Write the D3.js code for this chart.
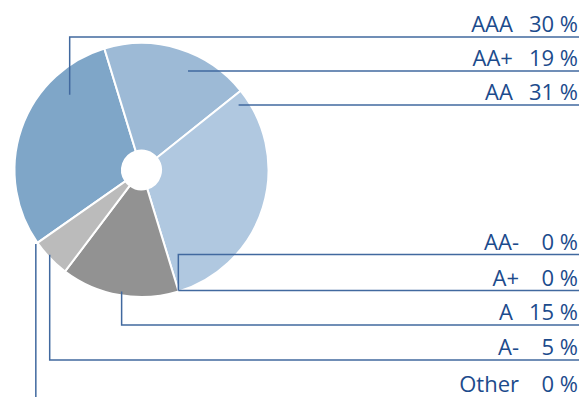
<!DOCTYPE html>
<html>
<head>
<meta charset="utf-8">
<script src="https://cdn.jsdelivr.net/npm/d3@7"></script>
<style>
  body { margin: 0; background: #fff; }
  svg text { font-family: "Open Sans", "Noto Sans", sans-serif; }
</style>
</head>
<body>
<script>
// data
var ratings = ["AAA", "AA+", "AA", "AA-", "A+", "A", "A-", "Other"];
var shares = [30, 19, 31, 0, 0, 15, 5, 0];
var sliceColors = ["#7fa6c8", "#9dbad6", "#b0c8e0", "#b0c8e0", "#b0c8e0", "#929292", "#bbbbbb", "#bbbbbb"];

// where each leader touches its slice: fraction along the slice angle, radius
var leaderFrac = [0.753, 0.614, 0.042, 1, 1, 0.487, 0.57, 1];
var leaderRad = [104, 110, 117, 126, 126, 123, 125, 129];
// label rows: 3 on top, 5 at the bottom
var topRows = [37, 71, 105];
var bottomRows = [254.5, 290.5, 325, 360, 398];

var width = 586, height = 397;
var cx = 141.5, cy = 170, outerR = 127, innerR = 19.5;
var lineEnd = 579;
var textColor = "#1c4b8c", lineColor = "#41699f";

var svg = d3.select("body")
  .append("svg")
  .attr("width", width)
  .attr("height", height);

var startDeg = 235;
var pie = d3.pie()
  .sort(null)
  .value(function(d) { return d; })
  .startAngle(startDeg * Math.PI / 180)
  .endAngle(startDeg * Math.PI / 180 + 2 * Math.PI);

var arcs = pie(shares);

var arc = d3.arc()
  .innerRadius(innerR)
  .outerRadius(outerR);

var g = svg.append("g")
  .attr("transform", "translate(" + cx + "," + cy + ")");

g.selectAll("path.slice")
  .data(arcs.filter(function(d) { return d.value > 0; }))
  .enter()
  .append("path")
  .attr("class", "slice")
  .attr("d", arc)
  .attr("fill", function(d) { return sliceColors[d.index]; })
  .attr("stroke", "#fff")
  .attr("stroke-width", 2);

// row y for every label
var rowY = topRows.concat(bottomRows);

// leaders
svg.selectAll("path.leader")
  .data(arcs)
  .enter()
  .append("path")
  .attr("class", "leader")
  .attr("fill", "none")
  .attr("stroke", lineColor)
  .attr("stroke-width", 1.5)
  .attr("d", function(d, i) {
    var a = d.startAngle + (d.endAngle - d.startAngle) * leaderFrac[i];
    var x = cx + leaderRad[i] * Math.sin(a);
    var y = cy - leaderRad[i] * Math.cos(a);
    var ly = rowY[i];
    if (Math.abs(y - ly) < 2) y = ly;
    return "M" + x + "," + y + "V" + ly + "H" + lineEnd;
  });

// labels: value right-aligned, name placed left of it
var labelY = function(i) { return Math.min(rowY[i] - 5, 391.5); };

var values = svg.selectAll("text.value")
  .data(shares)
  .enter()
  .append("text")
  .attr("class", "value")
  .attr("x", lineEnd - 1)
  .attr("y", function(d, i) { return labelY(i); })
  .attr("text-anchor", "end")
  .attr("fill", textColor)
  .style("font-size", "22px")
  .text(function(d) { return d + " %"; });

var valueW = [];
values.each(function() { valueW.push(this.getComputedTextLength()); });

svg.selectAll("text.name")
  .data(ratings)
  .enter()
  .append("text")
  .attr("class", "name")
  .attr("x", function(d, i) {
    return lineEnd - 1 - valueW[i] - 16 - (shares[i] < 10 ? 6.5 : 0);
  })
  .attr("y", function(d, i) { return labelY(i); })
  .attr("text-anchor", "end")
  .attr("fill", textColor)
  .style("font-size", "22px")
  .text(function(d) { return d; });
</script>
</body>
</html>
